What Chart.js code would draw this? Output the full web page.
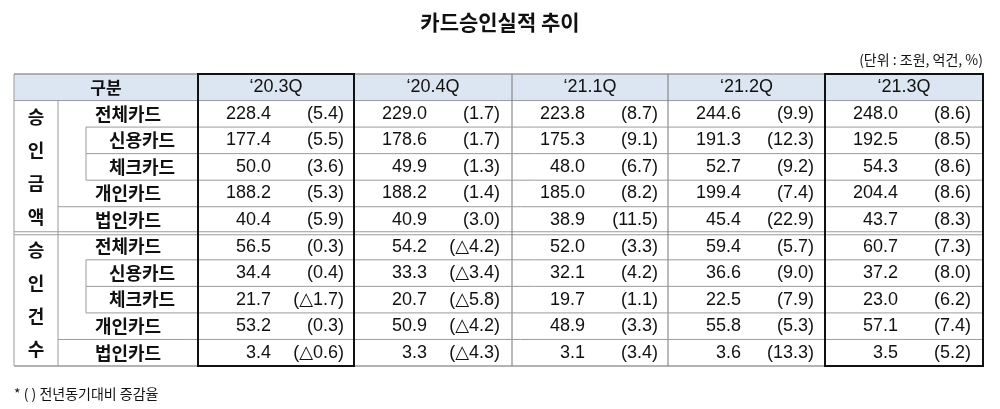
<!DOCTYPE html>
<html>
<head>
<meta charset="utf-8">
<script src="https://cdn.jsdelivr.net/npm/chart.js@4"></script>
<style>
  body { margin: 0; background: #fff; }
  #wrap { width: 1000px; height: 409px; position: relative; }
</style>
</head>
<body>
<div id="wrap"><canvas id="tbl"></canvas></div>
<script>
// --- table data ---
const quarters = ['‘20.3Q', '‘20.4Q', '‘21.1Q', '‘21.2Q', '‘21.3Q'];
const groups = ['승인금액', '승인건수'];
const rowLabels = ['전체카드', '신용카드', '체크카드', '개인카드', '법인카드'];
const amountValues = [
    ['228.4', '229.0', '223.8', '244.6', '248.0'],
    ['177.4', '178.6', '175.3', '191.3', '192.5'],
    ['50.0', '49.9', '48.0', '52.7', '54.3'],
    ['188.2', '188.2', '185.0', '199.4', '204.4'],
    ['40.4', '40.9', '38.9', '45.4', '43.7']
];
const amountChange = [
    ['5.4', '1.7', '8.7', '9.9', '8.6'],
    ['5.5', '1.7', '9.1', '12.3', '8.5'],
    ['3.6', '1.3', '6.7', '9.2', '8.6'],
    ['5.3', '1.4', '8.2', '7.4', '8.6'],
    ['5.9', '3.0', '11.5', '22.9', '8.3']
];
const countValues = [
    ['56.5', '54.2', '52.0', '59.4', '60.7'],
    ['34.4', '33.3', '32.1', '36.6', '37.2'],
    ['21.7', '20.7', '19.7', '22.5', '23.0'],
    ['53.2', '50.9', '48.9', '55.8', '57.1'],
    ['3.4', '3.3', '3.1', '3.6', '3.5']
];
const countChange = [
    ['0.3', '△4.2', '3.3', '5.7', '7.3'],
    ['0.4', '△3.4', '4.2', '9.0', '8.0'],
    ['△1.7', '△5.8', '1.1', '7.9', '6.2'],
    ['0.3', '△4.2', '3.3', '5.3', '7.4'],
    ['△0.6', '△4.3', '3.4', '13.3', '5.2']
];
const subRows = [1, 2]; // 신용/체크 are sub items of 전체카드
const boxedCols = [0, 4];

// row keys for the y category scale: header + 10 body rows
const rowKeys = ['header'].concat(
    rowLabels.map(r => 'a-' + r), rowLabels.map(r => 'c-' + r));

// column edges in x-scale units (table width 969)
const colEdges = [0, 44, 184, 340, 498, 654, 811, 969];
const subIndent = 28;

const FONT = "'Noto Sans CJK KR', 'Noto Sans', sans-serif";
const NUMFONT = "'Liberation Sans', 'DejaVu Sans', sans-serif";

const tablePlugin = {
    id: 'tablePlugin',
    afterDraw(chart) {
        const ctx = chart.ctx;
        const xs = chart.scales.x, ys = chart.scales.y;
        const X = v => xs.getPixelForValue(v);
        const rowH = ys.getPixelForValue(1) - ys.getPixelForValue(0);
        const rowTop = i => ys.getPixelForValue(i) - rowH / 2;
        const rowMid = i => ys.getPixelForValue(i);
        const left = X(0), right = X(969);
        const top = rowTop(0), bottom = rowTop(rowKeys.length);

        ctx.save();
        // header fill
        ctx.fillStyle = '#dce6f2';
        ctx.fillRect(left, top, right - left, rowH);

        const line = (x1, y1, x2, y2, color, w) => {
            ctx.beginPath();
            ctx.strokeStyle = color; ctx.lineWidth = w;
            ctx.moveTo(x1, y1); ctx.lineTo(x2, y2); ctx.stroke();
        };
        const grey = '#9a9a9a';

        // outer borders
        line(left, top, right, top, grey, 1.5);
        line(left, bottom, right, bottom, grey, 1.5);
        line(left, top, left, bottom, grey, 1);
        line(right, top, right, bottom, grey, 1);
        line(left, rowTop(1), right, rowTop(1), grey, 1);
        // group divider (double)
        const gy = rowTop(6);
        line(left, gy - 1.5, right, gy - 1.5, grey, 1);
        line(left, gy + 1.5, right, gy + 1.5, grey, 1);

        // vertical column lines
        line(X(colEdges[1]), rowTop(1), X(colEdges[1]), bottom, grey, 1);
        for (let c = 2; c < colEdges.length - 1; c++) {
            line(X(colEdges[c]), top, X(colEdges[c]), bottom, '#777', 1);
        }

        // horizontal row lines inside groups
        for (let g = 0; g < 2; g++) {
            for (let r = 0; r < 4; r++) {
                const ri = 1 + g * 5 + r;
                const y = rowTop(ri + 1);
                const startX = (subRows.includes(r) || subRows.includes(r + 1))
                    ? colEdges[1] + subIndent : colEdges[1];
                line(X(startX), y, right, y, grey, 1);
            }
            // sub-row indent vertical
            const sx = X(colEdges[1] + subIndent);
            line(sx, rowTop(1 + g * 5 + subRows[0]), sx, rowTop(1 + g * 5 + subRows[1] + 1), grey, 1);
        }

        // bold boxes for highlighted quarters
        boxedCols.forEach(c => {
            const x1 = X(colEdges[c + 2]), x2 = X(colEdges[c + 3]);
            ctx.strokeStyle = '#111'; ctx.lineWidth = 2;
            ctx.strokeRect(x1, top, x2 - x1, bottom - top);
        });

        // header texts
        ctx.fillStyle = '#111';
        ctx.textBaseline = 'middle';
        ctx.textAlign = 'center';
        ctx.font = `bold 17px ${FONT}`;
        ctx.fillText('구분', (X(colEdges[0]) + X(colEdges[2])) / 2, rowMid(0));
        ctx.font = `18px ${NUMFONT}`;
        quarters.forEach((q, c) => {
            ctx.fillText(q, (X(colEdges[c + 2]) + X(colEdges[c + 3])) / 2, rowMid(0));
        });

        // body
        const blocks = [[amountValues, amountChange], [countValues, countChange]];
        groups.forEach((gname, g) => {
            const gTop = rowTop(1 + g * 5), gBot = rowTop(6 + g * 5);
            const chars = Array.from(gname);
            ctx.font = `bold 18px ${FONT}`;
            ctx.textAlign = 'center';
            chars.forEach((ch, i) => {
                ctx.fillText(ch, (X(colEdges[0]) + X(colEdges[1])) / 2,
                    gTop + (i + 0.5) * (gBot - gTop) / chars.length);
            });
            rowLabels.forEach((lab, r) => {
                const ri = 1 + g * 5 + r;
                ctx.font = `bold 18px ${FONT}`;
                ctx.textAlign = 'center';
                const lx = subRows.includes(r)
                    ? (X(colEdges[1] + subIndent) + X(colEdges[2])) / 2
                    : (X(colEdges[1]) + X(colEdges[2])) / 2;
                ctx.fillText(lab, lx, rowMid(ri));
                ctx.font = `18px ${NUMFONT}`;
                ctx.textAlign = 'right';
                quarters.forEach((q, c) => {
                    const cx = X(colEdges[c + 2]);
                    ctx.fillText(blocks[g][0][r][c], cx + 73, rowMid(ri));
                    ctx.fillText('(' + blocks[g][1][r][c] + ')', cx + 146, rowMid(ri));
                });
            });
        });
        ctx.restore();

        // title, unit, footnote
        ctx.save();
        ctx.fillStyle = '#111';
        ctx.textBaseline = 'middle';
        ctx.textAlign = 'center';
        ctx.font = `bold 21px ${FONT}`;
        ctx.fillText('카드승인실적 추이', 500, 22);
        ctx.textAlign = 'right';
        ctx.font = `14px ${FONT}`;
        ctx.fillText('(단위 : 조원, 억건, %)', right, 60);
        ctx.textAlign = 'left';
        ctx.fillText('* ( ) 전년동기대비 증감율', 14, 394);
        ctx.restore();
    }
};

new Chart(document.getElementById('tbl'), {
    type: 'scatter',
    data: { datasets: [{ data: [] }] },
    options: {
        responsive: true,
        maintainAspectRatio: false,
        animation: false,
        layout: { padding: { left: 14, right: 17, top: 74, bottom: 43 } },
        scales: {
            x: { type: 'linear', min: 0, max: 969, display: false },
            y: { type: 'category', labels: rowKeys, offset: true, display: false }
        },
        plugins: { legend: { display: false }, tooltip: { enabled: false } }
    },
    plugins: [tablePlugin]
});
</script>
</body>
</html>
